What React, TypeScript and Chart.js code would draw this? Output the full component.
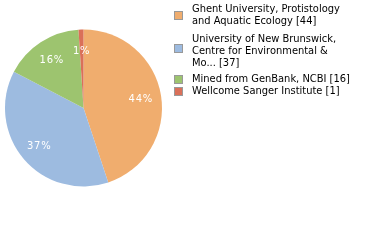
import React, { useEffect, useRef } from "react";
import { Chart, registerables } from "chart.js";

Chart.register(...registerables);

const categories = [
  "Ghent University, Protistology and Aquatic Ecology",
  "University of New Brunswick, Centre for Environmental & Mo...",
  "Mined from GenBank, NCBI",
  "Wellcome Sanger Institute",
];
const legendLines: string[][] = [
  ["Ghent University, Protistology", "and Aquatic Ecology [44]"],
  ["University of New Brunswick,", "Centre for Environmental &", "Mo... [37]"],
  ["Mined from GenBank, NCBI [16]"],
  ["Wellcome Sanger Institute [1]"],
];
const counts = [44, 37, 16, 1];
const colors = ["#F0AD6E", "#9DBBE0", "#9DC46F", "#DA7059"];

const LEGEND_FONT = '11px "DejaVu Sans Condensed", "DejaVu Sans", sans-serif';
const PCT_FONT = '10px "DejaVu Sans", sans-serif';

const overlayPlugin = {
  id: "overlay",
  afterDatasetsDraw(chart: any) {
    const ctx = chart.ctx as CanvasRenderingContext2D;
    const meta = chart.getDatasetMeta(0);
    const total = counts.reduce((a, b) => a + b, 0);
    ctx.save();
    ctx.fillStyle = "#ffffff";
    ctx.font = PCT_FONT;
    ctx.textAlign = "center";
    ctx.textBaseline = "middle";
    (ctx as any).letterSpacing = "0.8px";
    meta.data.forEach((arc: any, i: number) => {
      const p = arc.getProps(["x", "y", "startAngle", "endAngle", "outerRadius"], true);
      const mid = (p.startAngle + p.endAngle) / 2;
      const r = p.outerRadius * 0.74;
      const pct = Math.floor((counts[i] / total) * 100);
      ctx.fillText(pct + "%", p.x + Math.cos(mid) * r, p.y + Math.sin(mid) * r + 1);
    });
    ctx.restore();

    // legend
    ctx.save();
    ctx.font = LEGEND_FONT;
    ctx.textAlign = "left";
    ctx.textBaseline = "middle";
    const itemTops = [9.5, 39.3, 79, 91];
    const lh = 11.8;
    legendLines.forEach((lines, i) => {
      const y0 = itemTops[i];
      const n = lines.length;
      const sqCenter = n === 1 ? y0 : y0 + ((n - 1) * lh) / 2 - (n === 3 ? 2.5 : -0.5);
      ctx.fillStyle = colors[i];
      ctx.fillRect(175, Math.round(sqCenter - 3.5), 7, 7);
      ctx.strokeStyle = "#999999";
      ctx.lineWidth = 1;
      ctx.strokeRect(174.5, Math.round(sqCenter - 3.5) - 0.5, 8, 8);
      ctx.fillStyle = "#000000";
      lines.forEach((t, j) => ctx.fillText(t, 192, y0 + j * lh));
    });
    ctx.restore();
  },
};

export default function App() {
  const ref = useRef<HTMLCanvasElement | null>(null);
  useEffect(() => {
    document.body.style.margin = "0";
    const chart = new Chart(ref.current as HTMLCanvasElement, {
      type: "pie",
      data: {
        labels: categories,
        datasets: [
          {
            data: counts,
            backgroundColor: colors,
            borderWidth: 0,
          },
        ],
      },
      options: {
        responsive: false,
        animation: false,
        layout: { padding: { left: 5, top: 29.5, right: 218, bottom: 53.5 } },
        plugins: { legend: { display: false }, tooltip: { enabled: false } },
      },
      plugins: [overlayPlugin],
    });
    return () => chart.destroy();
  }, []);
  return <canvas ref={ref} width={380} height={240} style={{ display: "block" }} />;
}
